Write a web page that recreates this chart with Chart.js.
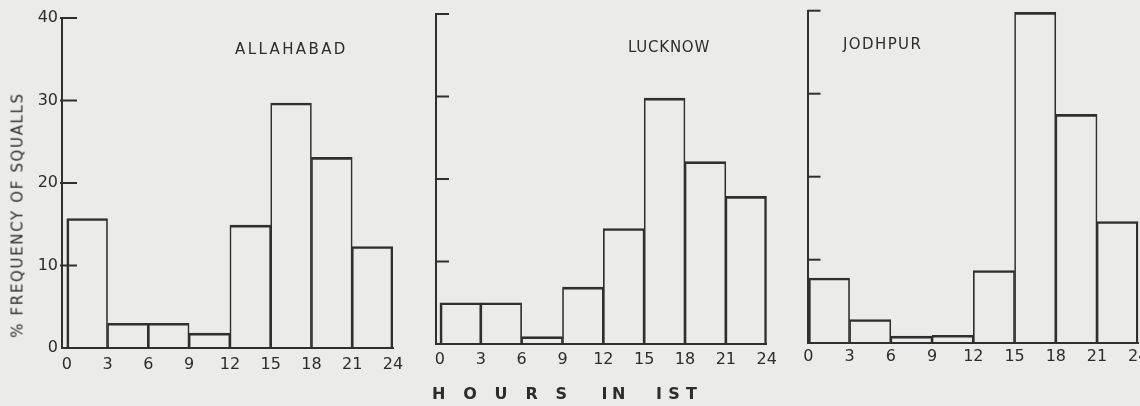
<!DOCTYPE html>
<html><head><meta charset="utf-8">
<script src="https://cdn.jsdelivr.net/npm/chart.js@4.4.0/dist/chart.umd.min.js"></script>
<style>
html,body{margin:0;padding:0;background:#ebebea;width:1140px;height:406px;overflow:hidden;}
#wrap{position:relative;width:1140px;height:406px;}
canvas{position:absolute;top:0;}
.t{position:absolute;white-space:nowrap;line-height:1;color:#2c2c2c;font-family:"DejaVu Sans",sans-serif;}
</style></head><body>
<div id="wrap">
<canvas id="c1" width="420" height="406" style="left:0px"></canvas>
<canvas id="c2" width="390" height="406" style="left:400px"></canvas>
<canvas id="c3" width="370" height="406" style="left:770px"></canvas>
<div class="t" style="left:235px;top:41.8px;font-size:15px;letter-spacing:2.4px">ALLAHABAD</div>
<div class="t" style="left:628px;top:39.8px;font-size:15px;letter-spacing:0.75px">LUCKNOW</div>
<div class="t" style="left:843px;top:36.8px;font-size:15px;letter-spacing:1.4px">JODHPUR</div>
<div class="t" style="left:18px;top:215px;font-size:15px;letter-spacing:1.65px;transform:translate(-50%,-50%) rotate(-90deg)">% FREQUENCY OF SQUALLS</div>
<div class="t" style="left:432px;top:386.3px;font-size:16px;font-weight:bold;letter-spacing:17.8px">HOURS</div>
<div class="t" style="left:601.5px;top:386.3px;font-size:16px;font-weight:bold;letter-spacing:4.6px">IN</div>
<div class="t" style="left:656px;top:386.3px;font-size:16px;font-weight:bold;letter-spacing:6.3px">IST</div>
</div>
<script>
// ---- data ----
const hourTicks = [0, 3, 6, 9, 12, 15, 18, 21, 24];
const binStarts = [0, 3, 6, 9, 12, 15, 18, 21];
const binWidth = 3;
const yTicks = [0, 10, 20, 30, 40];
const allahabad = [15.7, 3.0, 3.0, 1.8, 14.9, 29.7, 23.1, 12.3];
const lucknow   = [5.0, 5.0, 0.9, 6.9, 14.0, 29.8, 22.1, 17.9];
const jodhpur   = [7.8, 2.8, 0.8, 0.9, 8.7, 39.8, 27.5, 14.6];

// ---- styling ----
const lineColor = '#2f2f2f';
const textColor = '#2c2c2c';
const fontFamily = '"DejaVu Sans", sans-serif';

const innerTicks = {
  id: 'innerTicks',
  afterDraw(chart, args, opts) {
    const {ctx, chartArea} = chart;
    const ys = chart.scales.y;
    ctx.save();
    ctx.strokeStyle = lineColor;
    ctx.lineWidth = 2;
    yTicks.forEach(v => {
      if (v <= 0) return;
      const py = ys.getPixelForValue(v);
      ctx.beginPath();
      ctx.moveTo(chartArea.left - opts.out, py);
      ctx.lineTo(chartArea.left + opts.len, py);
      ctx.stroke();
    });
    ctx.restore();
  }
};

function makeChart(id, values, p) {
  const last = values.length - 1;
  return new Chart(document.getElementById(id), {
    type: 'bar',
    data: {
      datasets: [{
        data: binStarts.map((h, i) => ({x: h + binWidth / 2, y: values[i]})),
        backgroundColor: 'rgba(0,0,0,0)',
        borderColor: lineColor,
        borderWidth: c => ({top: 2, bottom: 0, left: c.dataIndex === 0 ? 2 : 1, right: c.dataIndex === last ? 2 : 1}),
        borderSkipped: false,
        barPercentage: 1,
        categoryPercentage: 1
      }]
    },
    options: {
      responsive: false,
      animation: false,
      layout: {padding: {left: 0, right: p.padR, top: p.padT, bottom: p.padB}},
      plugins: {legend: {display: false}, tooltip: {enabled: false}, innerTicks: {out: p.tickOut, len: p.tickLen}},
      scales: {
        x: {
          type: 'linear', min: p.xMin, max: 24, offset: false,
          afterBuildTicks: s => { s.ticks = hourTicks.map(v => ({value: v})); },
          afterFit: s => { s.height = 30; s.paddingLeft = 0; s.paddingRight = 0; },
          grid: {display: true, drawOnChartArea: false, drawTicks: false},
          border: {display: true, color: lineColor, width: 2},
          ticks: {padding: p.xPad, color: textColor, font: {family: fontFamily, size: 16}, autoSkip: false, maxRotation: 0}
        },
        y: {
          min: 0, max: 40,
          afterBuildTicks: s => { s.ticks = yTicks.map(v => ({value: v})); },
          afterFit: s => { s.width = p.yW; s.paddingTop = 0; s.paddingBottom = 0; },
          grid: {display: true, drawOnChartArea: false, drawTicks: false},
          border: {display: true, color: lineColor, width: 2},
          ticks: {display: p.showY, padding: 4, color: textColor, font: {family: fontFamily, size: 16}}
        }
      }
    },
    plugins: [innerTicks]
  });
}

makeChart('c1', allahabad, {yW: 62, padR: 27, padT: 18, padB: 28, xMin: -0.35, xPad: 7, showY: true, tickOut: 2, tickLen: 15});
makeChart('c2', lucknow,   {yW: 36, padR: 23.3, padT: 14, padB: 32, xMin: -0.29, xPad: 6, showY: false, tickOut: 0, tickLen: 13});
makeChart('c3', jodhpur,   {yW: 37.5, padR: 1.7, padT: 10.7, padB: 33.3, xMin: -0.06, xPad: 5, showY: false, tickOut: 0, tickLen: 13});
</script>
</body></html>
